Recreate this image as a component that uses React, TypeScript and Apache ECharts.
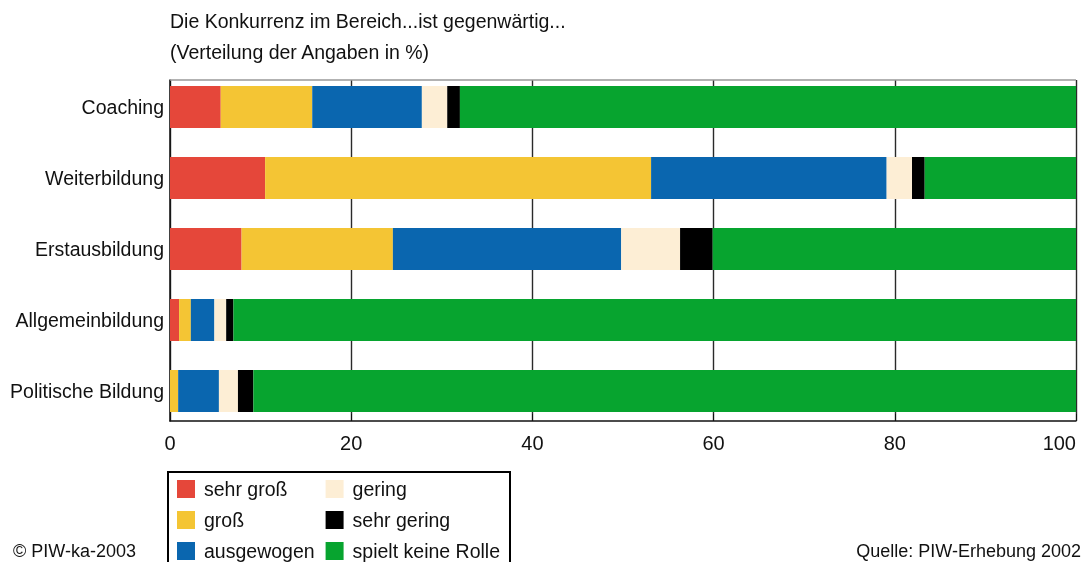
import React, { useEffect, useRef } from "react";
import * as echarts from "echarts";

const categories = ["Coaching", "Weiterbildung", "Erstausbildung", "Allgemeinbildung", "Politische Bildung"];
const seriesNames = ["sehr groß", "groß", "ausgewogen", "gering", "sehr gering", "spielt keine Rolle"];
const sehrGross = [5.6, 10.5, 7.9, 1.0, 0];
const gross = [10.1, 42.6, 16.7, 1.3, 0.9];
const ausgewogen = [12.1, 26.0, 25.2, 2.6, 4.5];
const gering = [2.8, 2.8, 6.5, 1.3, 2.1];
const sehrGering = [1.4, 1.4, 3.6, 0.8, 1.7];
const keineRolle = [68.0, 16.7, 40.1, 93.0, 90.8];
const xTicks = [0, 20, 40, 60, 80, 100];
const colors = ["#E5473A", "#F4C534", "#0A66AF", "#FDEED5", "#000000", "#07A42F"];

const FONT = "'Liberation Sans', Arial, sans-serif";
const TXT = "#111";

export default function App() {
  const ref = useRef<HTMLDivElement>(null);
  useEffect(() => {
    if (!ref.current) return;
    const chart = echarts.init(ref.current, undefined, { renderer: "svg" });
    const values = [sehrGross, gross, ausgewogen, gering, sehrGering, keineRolle];
    chart.setOption({
      animation: false,
      textStyle: { fontFamily: FONT },
      grid: [
        { left: 170, right: 6, top: 80, height: 341, outerBoundsMode: "none", containLabel: false },
        { left: 170, right: 6, top: 71.5, height: 355, outerBoundsMode: "none", containLabel: false },
      ],
      xAxis: [
        {
          gridIndex: 0,
          type: "value",
          min: xTicks[0],
          max: xTicks[xTicks.length - 1],
          interval: 20,
          axisLine: { show: true, lineStyle: { color: "#111", width: 1.5 } },
          axisTick: { show: true, inside: true, length: 7, lineStyle: { color: "#111" } },
          splitLine: { show: true, lineStyle: { color: "#2a2a2a", width: 1.4 } },
          axisLabel: {
            fontSize: 20,
            color: TXT,
            margin: 12,
            fontFamily: FONT,
            alignMaxLabel: "right",
          },
        },
        { gridIndex: 1, type: "value", min: 0, max: 100, show: false },
      ],
      yAxis: [
        {
          gridIndex: 0,
          type: "value",
          min: 0,
          max: 1,
          axisLine: { show: true, lineStyle: { color: "#111", width: 1.5 } },
          axisTick: { show: false },
          axisLabel: { show: false },
          splitLine: { show: false },
        },
        {
          gridIndex: 1,
          type: "category",
          data: categories,
          inverse: true,
          axisLine: { show: false },
          axisTick: { show: false },
          splitLine: { show: false },
          axisLabel: { fontSize: 19.5, color: TXT, margin: 6, fontFamily: FONT },
        },
      ],
      legend: {
        orient: "vertical",
        left: 168,
        top: 472,
        height: 88,
        itemWidth: 18,
        itemHeight: 18,
        itemGap: 11,
        icon: "rect",
        borderColor: "#000",
        borderWidth: 2,
        padding: [7, 10, 10, 9],
        textStyle: { fontSize: 19.5, color: TXT, fontFamily: FONT, padding: [0, 0, 0, 4] },
        data: seriesNames,
      },
      series: seriesNames.map((name, i) => ({
        name,
        type: "bar",
        stack: "total",
        xAxisIndex: 1,
        yAxisIndex: 1,
        barWidth: 42,
        itemStyle: { color: colors[i] },
        data: values[i],
      })),
      graphic: [
        {
          type: "line",
          shape: { x1: 170, y1: 80, x2: 1076, y2: 80 },
          style: { stroke: "#999", lineWidth: 1.5 },
          z: 10,
        },
        {
          type: "text",
          left: 170,
          top: 5,
          style: {
            text: "Die Konkurrenz im Bereich...ist gegenwärtig...\n(Verteilung der Angaben in %)",
            font: `19.5px ${FONT}`,
            fill: TXT,
            lineHeight: 31,
          },
        },
        {
          type: "text",
          left: 13,
          top: 542,
          style: { text: "© PIW-ka-2003", font: `18px ${FONT}`, fill: TXT },
        },
        {
          type: "text",
          right: 1,
          top: 542,
          style: { text: "Quelle: PIW-Erhebung 2002", font: `18px ${FONT}`, fill: TXT },
        },
      ],
    });
    return () => chart.dispose();
  }, []);
  return <div ref={ref} style={{ position: "fixed", left: 0, top: 0, width: 1082, height: 562 }} />;
}
